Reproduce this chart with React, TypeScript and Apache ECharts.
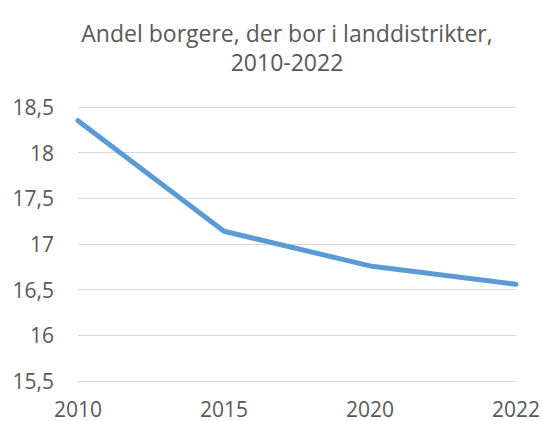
import React, { useEffect, useRef } from "react";
import * as echarts from "echarts";

const years = ["2010", "2015", "2020", "2022"];
const shares = [18.35, 17.14, 16.76, 16.56];
const titleText = "Andel borgere, der bor i landdistrikter,\n2010-2022";

export default function App() {
  const ref = useRef<HTMLDivElement>(null);
  useEffect(() => {
    if (!ref.current) return;
    const chart = echarts.init(ref.current, undefined, { renderer: "svg" });
    const font = "'Open Sans', 'Noto Sans', sans-serif";
    chart.setOption({
      animation: false,
      backgroundColor: "#ffffff",
      title: {
        text: titleText,
        left: 282,
        textAlign: "center",
        top: 13,
        textStyle: {
          fontFamily: font,
          fontSize: 23,
          fontWeight: "normal",
          color: "#595959",
          lineHeight: 29,
        },
      },
      grid: { left: 78, right: 27, top: 107, bottom: 40 },
      xAxis: {
        type: "category",
        data: years,
        boundaryGap: false,
        axisLine: { show: true, lineStyle: { color: "#d9d9d9", width: 1 } },
        axisTick: { show: false },
        axisLabel: {
          fontFamily: font,
          fontSize: 21,
          color: "#595959",
          margin: 17,
        },
        splitLine: { show: false },
      },
      yAxis: {
        type: "value",
        min: 15.5,
        max: 18.5,
        interval: 0.5,
        axisLine: { show: false },
        axisTick: { show: false },
        axisLabel: {
          fontFamily: font,
          fontSize: 21,
          color: "#595959",
          margin: 24,
          formatter: (v: number) => String(v).replace(".", ","),
        },
        splitLine: { show: true, lineStyle: { color: "#d9d9d9", width: 1 } },
      },
      series: [
        {
          type: "line",
          data: shares,
          symbol: "none",
          lineStyle: { color: "#5b9bd5", width: 5, cap: "round", join: "round" },
        },
      ],
    });
    return () => chart.dispose();
  }, []);
  return (
    <div
      ref={ref}
      style={{ position: "fixed", left: 0, top: 0, width: 543, height: 421 }}
    />
  );
}
